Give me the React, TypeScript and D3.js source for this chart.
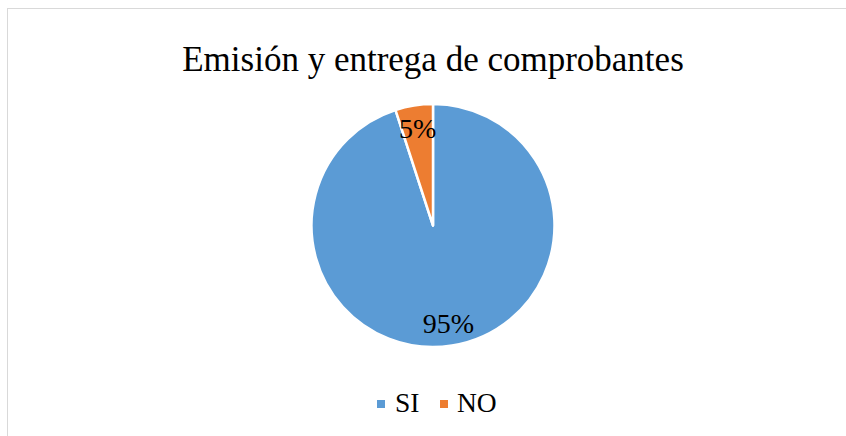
import * as d3 from 'd3';
import React from 'react';

const categories = ['SI', 'NO'];
const values = [95, 5];
const colors = ['#5B9BD5', '#ED7D31'];
const title = 'Emisión y entrega de comprobantes';

const W = 846;
const H = 436;
const cx = 433;
const cy = 225.5;
const radius = 121.5;
const serif = "'Times New Roman', 'Liberation Serif', Tinos, 'DejaVu Serif', serif";

const App: React.FC = () => {
    const data = categories.map((c, i) => ({ name: c, value: values[i], color: colors[i] }));
    const total = d3.sum(values);

    const pie = d3
        .pie<{ name: string; value: number; color: string }>()
        .sort(null)
        .value((d) => d.value);
    const arcs = pie(data);

    const arc = d3
        .arc<d3.PieArcDatum<{ name: string; value: number; color: string }>>()
        .innerRadius(0)
        .outerRadius(radius);
    const labelArc = d3
        .arc<d3.PieArcDatum<{ name: string; value: number; color: string }>>()
        .innerRadius(radius * 0.81)
        .outerRadius(radius * 0.81);

    // legend layout
    const legendItems = [
        { x: 377, textX: 395 },
        { x: 440, textX: 457 },
    ];

    return (
        <svg
            width={W}
            height={H}
            style={{ position: 'absolute', left: 0, top: 0, fontFamily: serif }}
        >
            <rect x={0} y={0} width={W} height={H} fill="#fff" />
            <rect
                x={7.5}
                y={8.5}
                width={W + 10}
                height={H + 10}
                fill="none"
                stroke="#d9d9d9"
                strokeWidth={1}
            />
            <text
                x={433}
                y={71}
                textAnchor="middle"
                style={{ fontFamily: serif }}
                fontSize={35}
                fill="#000"
            >
                {title}
            </text>
            <g transform={`translate(${cx},${cy})`}>
                {arcs.map((a) => (
                    <path
                        key={a.data.name}
                        d={arc(a) || ''}
                        fill={a.data.color}
                        stroke="#fff"
                        strokeWidth={2.5}
                        strokeLinejoin="round"
                    />
                ))}
                {arcs.map((a) => {
                    const [lx, ly] = labelArc.centroid(a);
                    return (
                        <text
                            key={a.data.name + '-l'}
                            x={lx}
                            y={ly}
                            dy="0.35em"
                            textAnchor="middle"
                            style={{ fontFamily: serif }}
                            fontSize={28}
                            fill="#000"
                        >
                            {Math.round((a.data.value / total) * 100)}%
                        </text>
                    );
                })}
            </g>
            {data.map((d, i) => (
                <g key={d.name + '-lg'}>
                    <rect
                        x={legendItems[i].x}
                        y={400}
                        width={8}
                        height={8}
                        fill={d.color}
                    />
                    <text
                        x={legendItems[i].textX}
                        y={412}
                        style={{ fontFamily: serif }}
                        fontSize={27.5}
                        fill="#000"
                    >
                        {d.name}
                    </text>
                </g>
            ))}
        </svg>
    );
};

export default App;
